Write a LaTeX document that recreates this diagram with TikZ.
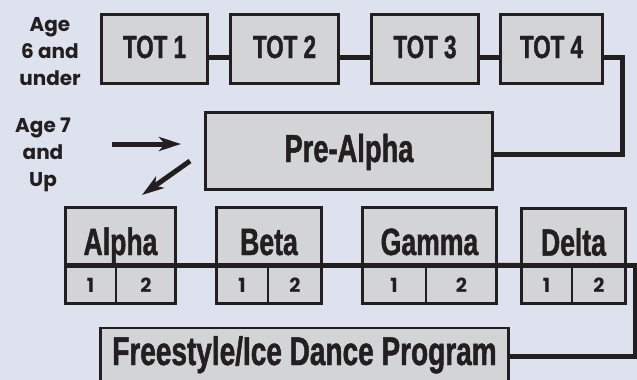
\documentclass[tikz,border=0pt]{standalone}
\usepackage{fontspec}
\usetikzlibrary{arrows.meta, positioning}
\newfontfamily\condfont[FakeStretch=0.70, FakeBold=1.2]{Liberation Sans Bold}
\newfontfamily\agefont{Poppins Bold}
\definecolor{skybg}{HTML}{DEE2EE}
\definecolor{boxgray}{HTML}{D3D4D6}
\definecolor{inkdark}{HTML}{231F20}
\tikzset{
    levelbox/.style={
        rectangle, draw=inkdark, line width=2.6pt, fill=boxgray, inner sep=0pt,
        text=inkdark, text height=38.8pt, text depth=0pt,
        font=\condfont\fontsize{38}{38}\selectfont
    },
    totbox/.style={
        levelbox, minimum height=69.4pt, text height=18pt,
        font=\condfont\fontsize{32}{32}\selectfont
    },
    subbox/.style={
        rectangle, draw=inkdark, line width=2.6pt, fill=boxgray, inner sep=0pt,
        minimum height=36.7pt, text=inkdark, font=\agefont\fontsize{19.5}{19.5}\selectfont
    },
    agelabel/.style={align=center, text=inkdark, font=\agefont\fontsize{20}{27}\selectfont},
    link/.style={draw=inkdark, line width=5pt},
    bigarrow/.style={draw=inkdark, line width=5pt, -{Stealth[length=22pt, width=14pt, inset=6pt]}}
}

\begin{document}
\begin{tikzpicture}[x=1pt, y=-1pt]

% === BACKGROUND ===
\fill[skybg] (0,0) rectangle (637,380);
\useasboundingbox (0,0) rectangle (637,380);

% === AGE LABELS ===
\node (under6) [agelabel] at (50,52)  {Age\\6 and\\under};
\node (over7)  [agelabel] at (43,155) {Age 7\\and\\Up};

% === TOT LEVELS ===
\node (tot1) [totbox, minimum width=106.4pt] at (154.5,49) {TOT 1};
\node (tot2) [totbox, minimum width=108.4pt] at (284.5,49) {TOT 2};
\node (tot3) [totbox, minimum width=107.4pt] at (425,49)   {TOT 3};
\node (tot4) [totbox, minimum width=102.4pt] at (551.5,49) {TOT 4};

% === PRE-ALPHA ===
\node (prealpha) [levelbox, minimum width=287.4pt, minimum height=77.4pt, text height=22pt,
    font=\condfont\fontsize{39}{39}\selectfont] at (349,151) {Pre-Alpha};

% === GREEK LEVELS ===
\node (alpha) [levelbox, minimum width=110.4pt, minimum height=56.7pt] at (120.5,235.6) {Alpha};
\node (alpha1) [subbox, minimum width=50.7pt, anchor=north west] at (alpha.south west) {1};
\node (alpha2) [subbox, minimum width=59.7pt, anchor=north east] at (alpha.south east) {2};

\node (beta) [levelbox, minimum width=105.4pt, minimum height=56.7pt] at (269,235.6) {Beta};
\node (beta1) [subbox, minimum width=51.7pt, anchor=north west] at (beta.south west) {1};
\node (beta2) [subbox, minimum width=53.7pt, anchor=north east] at (beta.south east) {2};

\node (gamma) [levelbox, minimum width=134.4pt, minimum height=56.7pt] at (429.5,235.6) {Gamma};
\node (gamma1) [subbox, minimum width=63.7pt, anchor=north west] at (gamma.south west) {1};
\node (gamma2) [subbox, minimum width=70.7pt, anchor=north east] at (gamma.south east) {2};

\node (delta) [levelbox, minimum width=104.4pt, minimum height=55.7pt] at (573.5,236.2) {Delta};
\node (delta1) [subbox, minimum width=50.7pt, anchor=north west] at (delta.south west) {1};
\node (delta2) [subbox, minimum width=53.7pt, anchor=north east] at (delta.south east) {2};

% === FREESTYLE ===
\node (freestyle) [levelbox, minimum width=408.4pt, minimum height=55.7pt, text height=18pt,
    font=\condfont\fontsize{40}{40}\selectfont] at (304.5,356) {Freestyle/Ice Dance Program};

% === LINKS ===
\draw [link] ([yshift=-8pt]tot1.east) -- ([yshift=-8pt]tot2.west);
\draw [link] ([yshift=-8pt]tot2.east) -- ([yshift=-8pt]tot3.west);
\draw [link] ([yshift=-8pt]tot3.east) -- ([yshift=-8pt]tot4.west);
\draw [link] ([yshift=-8pt]tot4.east) -- ++(18,0) |- ([yshift=-3pt]prealpha.east);

\draw [link] (alpha.south east) -- (beta.south west);
\draw [link] (beta.south east) -- (gamma.south west);
\draw [link] (gamma.south east) -- (delta.south west);
\draw [link] (delta.south east) -- ++(8,0) |- (freestyle.east);

% === ENTRY ARROWS ===
\coordinate (entryin)  at (112,144);
\coordinate (entryend) at (181,144);
\coordinate (exitout)  at (190,161);
\coordinate (exitend)  at (142,195);
\draw [bigarrow] (entryin) -- (entryend);
\draw [bigarrow] (exitout) -- (exitend);

\end{tikzpicture}
\end{document}
